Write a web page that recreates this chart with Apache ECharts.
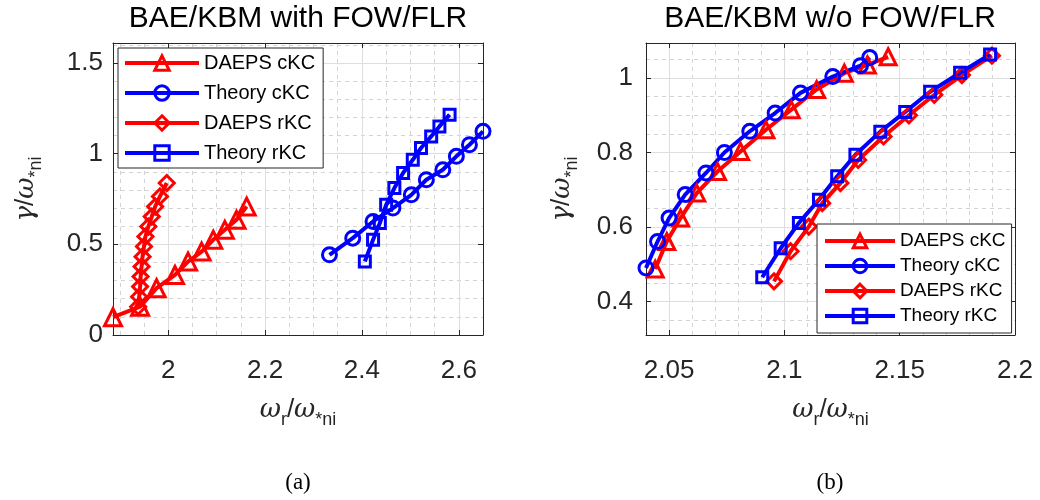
<!DOCTYPE html>
<html><head><meta charset="utf-8">
<script src="https://cdn.jsdelivr.net/npm/echarts@6/dist/echarts.min.js"></script>
<style>html,body{margin:0;padding:0;background:#fff}#c{width:1040px;height:500px}</style>
</head><body><div id="c"></div>
<script>
const seriesNames = ['DAEPS cKC', 'Theory cKC', 'DAEPS rKC', 'Theory rKC'];
const panelTitles = ['BAE/KBM with FOW/FLR', 'BAE/KBM w/o FOW/FLR'];
const panelTags = ['(a)', '(b)'];

// panel (a)
const aDaepsCkcX = [1.886, 1.942, 1.976, 2.014, 2.041, 2.069, 2.093, 2.117, 2.141, 2.162];
const aDaepsCkcY = [0.098, 0.156, 0.258, 0.331, 0.405, 0.460, 0.525, 0.580, 0.635, 0.708];
const aTheoryCkcX = [2.333, 2.381, 2.423, 2.464, 2.502, 2.533, 2.567, 2.595, 2.622, 2.650];
const aTheoryCkcY = [0.442, 0.534, 0.626, 0.700, 0.773, 0.856, 0.911, 0.985, 1.049, 1.123];
const aDaepsRkcX = [1.938, 1.940, 1.942, 1.943, 1.945, 1.947, 1.950, 1.953, 1.959, 1.966, 1.973, 1.983, 1.997];
const aDaepsRkcY = [0.156, 0.211, 0.267, 0.322, 0.377, 0.432, 0.488, 0.543, 0.598, 0.653, 0.708, 0.764, 0.838];
const aTheoryRkcX = [2.406, 2.423, 2.437, 2.450, 2.467, 2.485, 2.505, 2.522, 2.543, 2.560, 2.581];
const aTheoryRkcY = [0.405, 0.525, 0.617, 0.718, 0.810, 0.893, 0.966, 1.031, 1.095, 1.150, 1.215];

// panel (b)
const bDaepsCkcX = [2.044, 2.049, 2.055, 2.062, 2.071, 2.081, 2.092, 2.103, 2.114, 2.126, 2.136, 2.145];
const bDaepsCkcY = [0.487, 0.561, 0.624, 0.691, 0.749, 0.803, 0.861, 0.915, 0.969, 1.013, 1.035, 1.057];
const bTheoryCkcX = [2.040, 2.045, 2.050, 2.057, 2.066, 2.074, 2.085, 2.096, 2.107, 2.121, 2.133, 2.137];
const bTheoryCkcY = [0.490, 0.561, 0.624, 0.687, 0.745, 0.800, 0.857, 0.906, 0.960, 1.004, 1.033, 1.055];
const bDaepsRkcX = [2.0955, 2.1027, 2.1106, 2.1164, 2.1243, 2.132, 2.143, 2.154, 2.165, 2.177, 2.190];
const bDaepsRkcY = [0.454, 0.535, 0.601, 0.664, 0.718, 0.780, 0.843, 0.900, 0.955, 1.008, 1.060];
const bTheoryRkcX = [2.0904, 2.0984, 2.1063, 2.115, 2.1229, 2.1308, 2.1416, 2.1524, 2.1632, 2.1762, 2.1892];
const bTheoryRkcY = [0.465, 0.543, 0.611, 0.673, 0.736, 0.794, 0.856, 0.909, 0.963, 1.014, 1.063];

// axis ranges and tick steps
const aXRange = [1.886, 2.65], aXStep = 0.2, aXMinor = 0.05;
const aYRange = [0, 1.61], aYStep = 0.5, aYMinor = 0.1;
const bXRange = [2.04, 2.2], bXStep = 0.05, bXMinor = 0.01;
const bYRange = [0.31, 1.094], bYStep = 0.2, bYMinor = 0.05;

const FONT = 'Liberation Sans';
const INK = '#262626';
const RED = '#ff0000', BLUE = '#0000ff';

function zip(xs, ys) { return xs.map((x, i) => [x, ys[i]]); }
function fmt(step) {
  return function (v) {
    const r = v / step;
    return Math.abs(r - Math.round(r)) < 1e-6 ? String(parseFloat(v.toFixed(6))) : '';
  };
}
function mainAxis(dim, grid, range, step, pos, margin, name, nameGap) {
  const ax = {
    type: 'value', gridIndex: grid, position: pos, min: range[0], max: range[1],
    minInterval: step, maxInterval: step, splitNumber: Math.round((range[1] - range[0]) / step),
    axisLine: { show: true, lineStyle: { color: INK, width: 1 } },
    axisTick: { show: true, inside: true, length: 5, lineStyle: { color: INK } },
    axisLabel: { show: true, formatter: fmt(step), color: INK, fontSize: 26, fontFamily: FONT, margin: margin,
                 showMinLabel: true, showMaxLabel: true },
    splitLine: { show: true, showMinLine: false, showMaxLine: false, lineStyle: { color: '#dedede', width: 1 } },
    name: name, nameLocation: 'middle', nameGap: nameGap,
    nameTextStyle: {
      color: INK, fontFamily: FONT,
      rich: {
        g: { fontSize: 26, fontStyle: 'italic', fontFamily: 'DejaVu Serif', color: INK, lineHeight: 34 },
        t: { fontSize: 26, fontFamily: FONT, color: INK, lineHeight: 34 },
        s: { fontSize: 18, fontFamily: FONT, color: INK, lineHeight: 18, padding: [20, 0, 0, 0] }
      }
    },
    z: 3
  };
  if (dim === 'y') ax.nameRotate = 90;
  return ax;
}
function sideAxis(grid, range, step, pos) {
  return {
    type: 'value', gridIndex: grid, position: pos, min: range[0], max: range[1],
    minInterval: step, maxInterval: step, splitNumber: Math.round((range[1] - range[0]) / step),
    axisLine: { show: true, onZero: false, lineStyle: { color: INK, width: 1 } },
    axisTick: { show: true, inside: true, length: 5, lineStyle: { color: INK } },
    axisLabel: { show: false }, splitLine: { show: false }, z: 3
  };
}
function minorAxis(grid, range, step, pos) {
  return {
    type: 'value', gridIndex: grid, position: pos, min: range[0], max: range[1],
    minInterval: step, maxInterval: step, splitNumber: Math.round((range[1] - range[0]) / step),
    axisLine: { show: false }, axisTick: { show: false }, axisLabel: { show: false },
    splitLine: { show: true, showMinLine: false, showMaxLine: false,
                 lineStyle: { color: '#d4d4d4', width: 1, type: [4, 4] } },
    z: 1
  };
}

const xName = '{g|ω}{s|r}{t|/}{g|ω}{s|*ni}';
const yName = '{g|γ}{t|/}{g|ω}{s|*ni}';

const xAxes = [
  mainAxis('x', 0, aXRange, aXStep, 'bottom', 23, xName, 58),
  sideAxis(0, aXRange, aXStep, 'top'),
  minorAxis(0, aXRange, aXMinor, 'bottom'),
  mainAxis('x', 1, bXRange, bXStep, 'bottom', 23, xName, 58),
  sideAxis(1, bXRange, bXStep, 'top'),
  minorAxis(1, bXRange, bXMinor, 'bottom')
];
const yAxes = [
  mainAxis('y', 0, aYRange, aYStep, 'left', 10, yName, 70),
  sideAxis(0, aYRange, aYStep, 'right'),
  minorAxis(0, aYRange, aYMinor, 'left'),
  mainAxis('y', 1, bYRange, bYStep, 'left', 13, yName, 67),
  sideAxis(1, bYRange, bYStep, 'right'),
  minorAxis(1, bYRange, bYMinor, 'left')
];

const styles = [
  { color: RED, symbol: 'triangle' },
  { color: BLUE, symbol: 'circle' },
  { color: RED, symbol: 'diamond' },
  { color: BLUE, symbol: 'rect' }
];
const aSizes = [17, 14, 15, 11];
const bSizes = [16, 14, 15, 11];
const aData = [zip(aDaepsCkcX, aDaepsCkcY), zip(aTheoryCkcX, aTheoryCkcY), zip(aDaepsRkcX, aDaepsRkcY), zip(aTheoryRkcX, aTheoryRkcY)];
const bData = [zip(bDaepsCkcX, bDaepsCkcY), zip(bTheoryCkcX, bTheoryCkcY), zip(bDaepsRkcX, bDaepsRkcY), zip(bTheoryRkcX, bTheoryRkcY)];

const series = [];
[[aData, aSizes, 0], [bData, bSizes, 3]].forEach(([data, sizes, axisIdx]) => {
  data.forEach((d, i) => {
    series.push({
      type: 'line', name: seriesNames[i], data: d,
      xAxisIndex: axisIdx, yAxisIndex: axisIdx,
      symbol: styles[i].symbol, symbolSize: sizes[i], showAllSymbol: true,
      clip: false, animation: false,
      lineStyle: { color: styles[i].color, width: 4 },
      itemStyle: { color: 'rgba(255,255,255,0)', borderColor: styles[i].color, borderWidth: 3 },
      emphasis: { disabled: true },
      z: 5
    });
  });
});

const legendCommon = {
  data: seriesNames, orient: 'vertical', backgroundColor: '#fff', borderColor: INK, borderWidth: 1,
  borderRadius: 0, selectedMode: false, z: 10,
  lineStyle: { width: 4 },
  itemStyle: { borderWidth: 3 }
};

const option = {
  animation: false,
  backgroundColor: '#ffffff',
  title: [
    { text: panelTitles[0], left: 298, top: 4, textAlign: 'center', padding: 0,
      textStyle: { fontSize: 30, fontWeight: 'normal', color: '#000', fontFamily: FONT } },
    { text: panelTitles[1], left: 830, top: 4, textAlign: 'center', padding: 0,
      textStyle: { fontSize: 30, fontWeight: 'normal', color: '#000', fontFamily: FONT } },
    { text: panelTags[0], left: 298, top: 471, textAlign: 'center', padding: 0,
      textStyle: { fontSize: 23, fontWeight: 'normal', color: '#000', fontFamily: 'Liberation Serif' } },
    { text: panelTags[1], left: 830, top: 471, textAlign: 'center', padding: 0,
      textStyle: { fontSize: 23, fontWeight: 'normal', color: '#000', fontFamily: 'Liberation Serif' } }
  ],
  grid: [
    { left: 113, top: 43, width: 370, height: 292, show: false },
    { left: 646, top: 43, width: 369, height: 292, show: false }
  ],
  xAxis: xAxes,
  yAxis: yAxes,
  legend: [
    Object.assign({}, legendCommon, { left: 118, top: 48, itemWidth: 74, itemHeight: 18, itemGap: 8,
      padding: [4, 8, 4, 5],
      textStyle: { fontSize: 20, lineHeight: 22, color: '#000', fontFamily: FONT } }),
    Object.assign({}, legendCommon, { left: 817, top: 224, itemWidth: 70, itemHeight: 17, itemGap: 5,
      padding: [7, 6, 7, 6],
      textStyle: { fontSize: 19, lineHeight: 20, color: '#000', fontFamily: FONT } })
  ],
  series: series
};

const chart = echarts.init(document.getElementById('c'), null, { renderer: 'canvas' });
chart.setOption(option);
</script>
</body></html>
